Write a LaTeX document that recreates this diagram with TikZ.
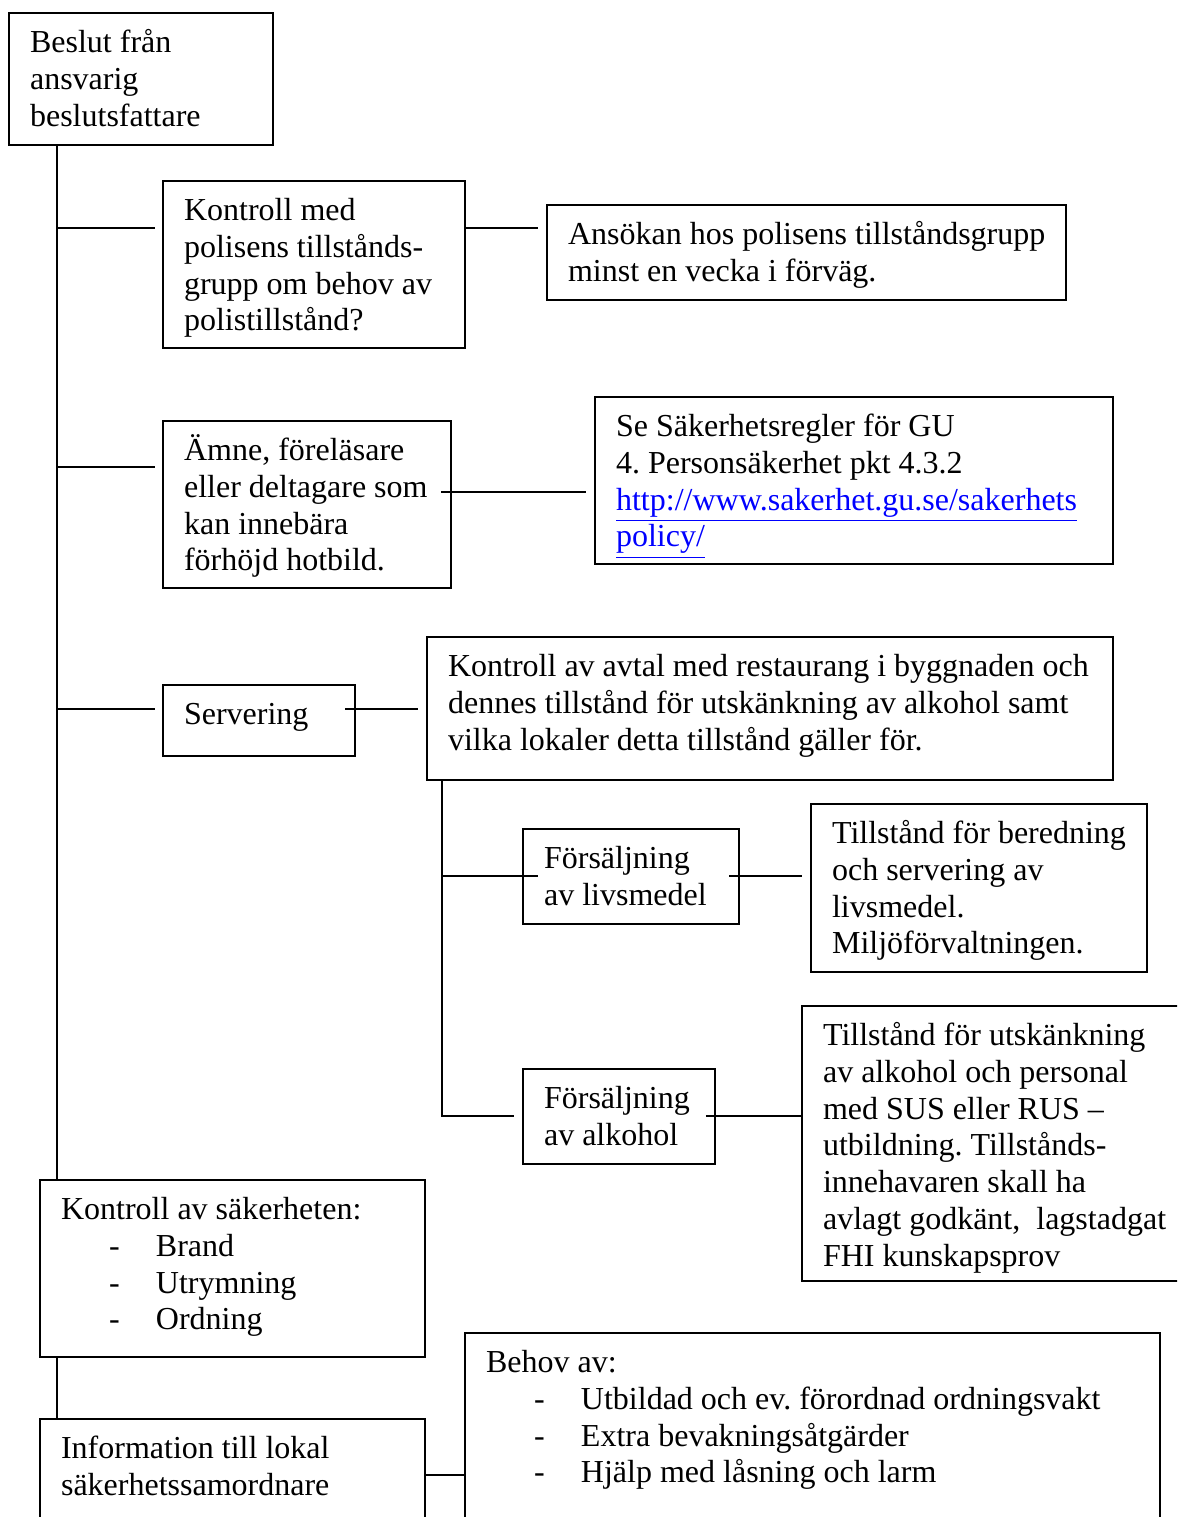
\documentclass[tikz,border=0pt]{standalone}
\usepackage{fontspec}
\setmainfont{Liberation Serif}
\usepackage{tikz}
\definecolor{lankbla}{RGB}{0,0,255}
\newcommand{\streck}[1]{\hspace*{18pt}\makebox[17.6pt][l]{-}#1}
\frenchspacing

\begin{document}
\begin{tikzpicture}[x=0.375pt, y=-0.375pt, line width=0.75pt,
    ruta/.style={draw, anchor=north west, outer sep=0pt, inner xsep=7.9pt, inner ysep=0pt,
        text height=14.8pt, font=\fontsize{12}{13.8}\selectfont,
        execute at begin node={\spaceskip=3pt plus 1pt minus 1pt\rightskip=0pt plus 1fil minus 30pt\relax}}]
        \useasboundingbox (0,0) rectangle (1177,1517);
        \clip (0,0) rectangle (1177,1517);

        % Rutor
        \node[ruta, text width=83.2pt, text depth=34.7pt] (beslut) at (9,13) {Beslut från\\ ansvarig\\ beslutsfattare};
        \node[ruta, text width=97.45pt, text depth=47.8pt] (polis) at (163,181) {Kontroll med\\ polisens tillstånds-\\ grupp om behov av\\ polistillstånd?};
        \node[ruta, text width=178.8pt, text depth=20.8pt] (ansokan) at (547,205) {Ansökan hos polisens tillståndsgrupp\\ minst en vecka i förväg.};
        \node[ruta, text width=92.2pt, text depth=47.8pt] (amne) at (163,421) {Ämne, föreläsare\\ eller deltagare som\\ kan innebära\\ förhöjd hotbild.};
        \node[ruta, text width=178.45pt, text depth=47.8pt] (regler) at (595,397) {Se Säkerhetsregler för GU\\ 4. Personsäkerhet pkt 4.3.2\\ \textcolor{lankbla}{\underline{http://www.sakerhet.gu.se/sakerhets}}\\ \textcolor{lankbla}{\underline{policy/}}};
        \node[ruta, text width=56.2pt, text depth=11.8pt] (servering) at (163,685) {Servering};
        \node[ruta, text width=241.45pt, text depth=38.8pt] (avtal) at (427,637) {Kontroll av avtal med restaurang i byggnaden och\\ dennes tillstånd för utskänkning av alkohol samt\\ vilka lokaler detta tillstånd gäller för.};
        \node[ruta, text width=65.2pt, text depth=20.8pt] (livsmedel) at (523,829) {Försäljning\\ av livsmedel};
        \node[ruta, text width=110.2pt, text depth=48.2pt] (beredning) at (811,804) {Tillstånd för beredning\\ och servering av\\ livsmedel.\\ Miljöförvaltningen.};
        \node[ruta, text width=56.2pt, text depth=20.8pt] (alkohol) at (523,1069) {Försäljning\\ av alkohol};
        \node[ruta, text width=134.2pt, text depth=88.3pt] (utskank) at (802,1006) {Tillstånd för utskänkning\\ av alkohol och personal\\ med SUS eller RUS –\\ utbildning. Tillstånds-\\ innehavaren skall ha\\ avlagt godkänt,~ lagstadgat\\ FHI kunskapsprov};
        \node[ruta, text width=128.6pt, text depth=51.6pt] (sakerhet) at (40,1180) {Kontroll av säkerheten:\\ \streck{Brand}\\ \streck{Utrymning}\\ \streck{Ordning}};
        \node[ruta, text width=128.6pt, text depth=40pt] (info) at (40,1419) {Information till lokal\\ säkerhetssamordnare};
        \node[ruta, text width=244.8pt, text depth=70pt] (behov) at (465,1333) {Behov av:\\ \streck{Utbildad och ev. förordnad ordningsvakt}\\ \streck{Extra bevakningsåtgärder}\\ \streck{Hjälp med låsning och larm}};

        % Linjer
        \coordinate (stam) at (57,0);
        \coordinate (gren) at (442,0);
        \coordinate (n1) at (0,228);
        \coordinate (n2) at (0,467);
        \coordinate (n3) at (0,492);
        \coordinate (n4) at (0,709);
        \coordinate (n5) at (0,1475);
        \draw (stam |- beslut.south) -- (stam |- sakerhet.north);
        \draw (stam |- sakerhet.south) -- (stam |- info.north);
        \draw[shorten >=3pt] (stam |- n1) -- (n1 -| polis.west);
        \draw[shorten >=3pt] (stam |- n2) -- (n2 -| amne.west);
        \draw[shorten >=3pt] (stam |- n4) -- (n4 -| servering.west);
        \draw[shorten >=3.4pt] (n1 -| polis.east) -- (n1 -| ansokan.west);
        \draw[shorten <=-3.75pt, shorten >=3.4pt] (n3 -| amne.east) -- (n3 -| regler.west);
        \draw[shorten <=-3.75pt, shorten >=3.4pt] (n4 -| servering.east) -- (n4 -| avtal.west);
        \draw[shorten >=3.4pt] (gren |- avtal.south) |- (alkohol.west);
        \draw[shorten >=-5.6pt] (gren |- livsmedel.west) -- (livsmedel.west);
        \draw[shorten <=-3.75pt, shorten >=3.4pt] (livsmedel.east) -- (livsmedel.east -| beredning.west);
        \draw[shorten <=-3.4pt] (alkohol.east) -- (alkohol.east -| utskank.west);
        \draw (n5 -| info.east) -- (n5 -| behov.west);
\end{tikzpicture}
\end{document}
